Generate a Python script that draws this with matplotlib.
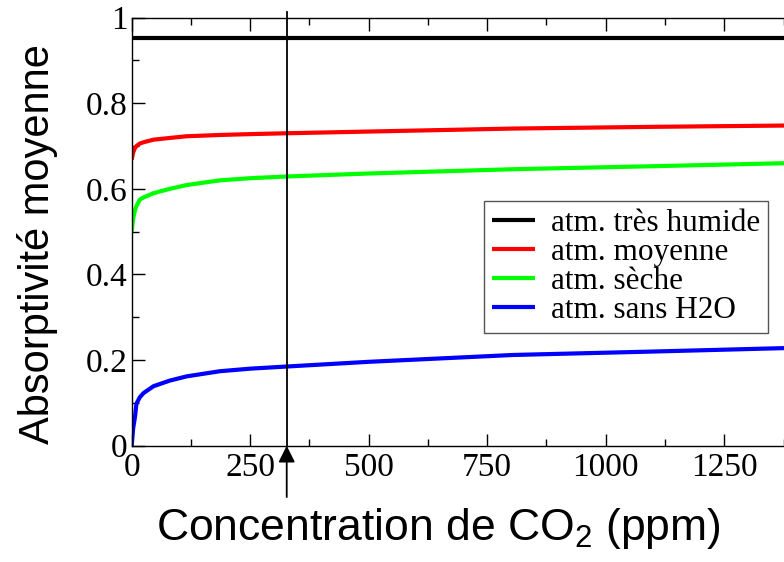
import matplotlib
matplotlib.use("Agg")
import matplotlib.pyplot as plt
from matplotlib.ticker import MultipleLocator

plt.rcParams['mathtext.fontset'] = 'custom'
plt.rcParams['mathtext.rm'] = 'Liberation Sans'

# CO2 concentration (ppm) and mean absorptivity for each atmosphere
conc = [0, 3, 7, 10, 17, 25, 46, 80, 116, 186, 250, 327, 500, 805, 1100, 1376]
tres_humide = [0.953] * len(conc)
moyenne = [0.668, 0.685, 0.696, 0.700, 0.706, 0.709, 0.715, 0.719, 0.723,
           0.726, 0.728, 0.730, 0.734, 0.741, 0.745, 0.748]
seche = [0.500, 0.530, 0.551, 0.560, 0.575, 0.580, 0.590, 0.600, 0.609,
         0.620, 0.625, 0.629, 0.636, 0.646, 0.653, 0.660]
sans_h2o = [0.000, 0.040, 0.068, 0.098, 0.113, 0.123, 0.139, 0.152, 0.162,
            0.174, 0.180, 0.185, 0.196, 0.212, 0.220, 0.228]
labels = ["atm. très humide", "atm. moyenne", "atm. sèche", "atm. sans H2O"]
colors = ["black", "red", "#00ff00", "blue"]
co2_actuel = 327

W, H = 784, 562
fig = plt.figure(figsize=(W / 100, H / 100), dpi=100)
ax = fig.add_axes([131.7 / W, 1 - 445.7 / H, 1 - 131.7 / W, (445.7 - 17.7) / H])

for y, lab, c in zip([tres_humide, moyenne, seche, sans_h2o], labels, colors):
    ax.plot(conc, y, color=c, lw=3, label=lab, solid_capstyle='butt')

ax.set_xlim(0, 1376)
ax.set_ylim(0, 1)
ax.xaxis.set_major_locator(MultipleLocator(250))
ax.xaxis.set_minor_locator(MultipleLocator(125))
ax.yaxis.set_major_locator(MultipleLocator(0.2))
ax.yaxis.set_minor_locator(MultipleLocator(0.1))
ax.yaxis.set_major_formatter(lambda v, p: "%g" % round(v, 2))
ax.spines['right'].set_visible(False)
for s in ['left', 'top', 'bottom']:
    ax.spines[s].set_linewidth(1.0)
ax.tick_params(which='both', direction='in', top=True, right=False,
               labelfontfamily='Liberation Serif', labelsize=24, width=1.0)
ax.tick_params(which='major', length=9, pad=3)
ax.tick_params(axis='x', which='major', pad=5)
ax.tick_params(which='minor', length=5)

# current CO2 level: vertical line with an arrow under the axis
ax.axvline(co2_actuel, ymin=0, ymax=1.014, color='black', lw=1.3, clip_on=False)
ax.annotate('', xy=(co2_actuel, 0), xycoords=('data', 'axes fraction'),
            xytext=(co2_actuel, -0.12), textcoords=('data', 'axes fraction'),
            arrowprops=dict(arrowstyle='-|>,head_length=0.5,head_width=0.25',
                            mutation_scale=20, color='black', lw=1.3,
                            shrinkA=0, shrinkB=0))

leg = ax.legend(loc='lower right', bbox_to_anchor=(768 / W, 1 - 333 / H),
                bbox_transform=fig.transFigure, borderaxespad=0,
                prop={'family': 'Liberation Serif', 'size': 22.5},
                fancybox=False, framealpha=1, edgecolor='#555555',
                handlelength=1.4, handletextpad=0.5, labelspacing=0.0,
                borderpad=0.25)
leg.get_frame().set_linewidth(1.0)

fig.text(438 / W, 1 - 540 / H, r"Concentration de CO$_\mathrm{2}$ (ppm)",
         family='Liberation Sans', fontsize=32, ha='center', va='baseline')
fig.text(38 / W, 1 - 244 / H, "Absorptivité moyenne", family='Liberation Sans',
         fontsize=30, rotation=90, ha='center', va='center')

fig.savefig("out.png", dpi=100)
